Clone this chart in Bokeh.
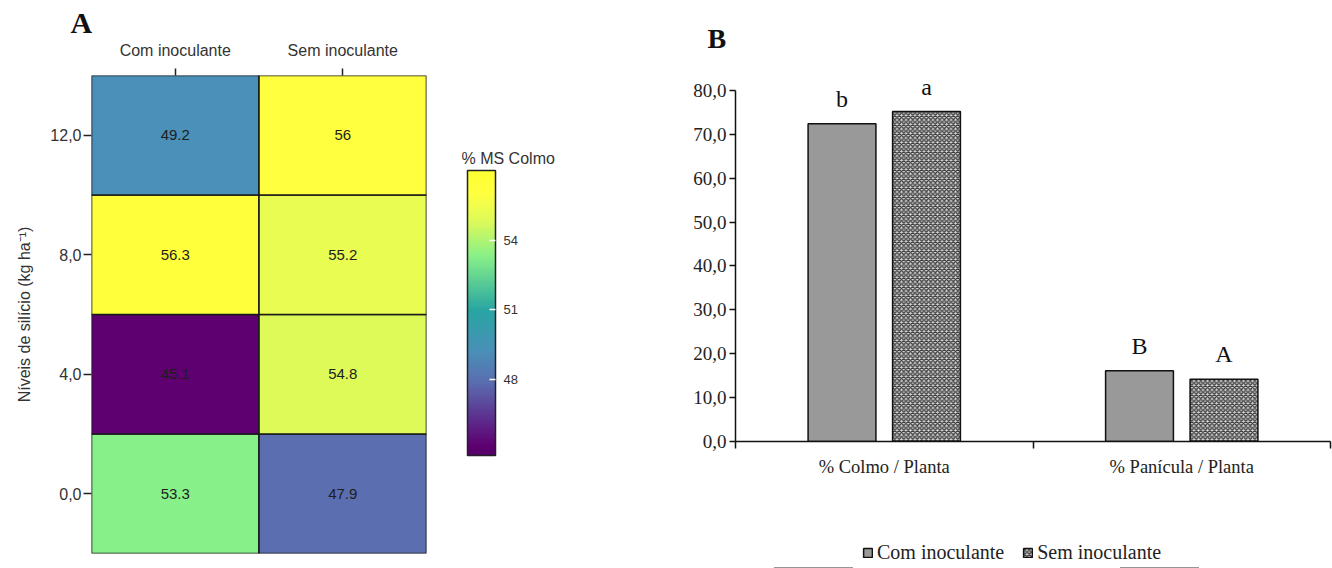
import numpy as np
from bokeh.plotting import figure
from bokeh.models import (ColumnDataSource, LinearColorMapper, ColorBar, FixedTicker,
                          FactorRange, Range1d, LinearAxis, Legend, LegendItem)
from bokeh.transform import dodge, transform
from bokeh.layouts import row, column
from bokeh.core.properties import value
from bokeh.embed import file_html
from bokeh.resources import INLINE

# ---------------- Panel A data ----------------
treatments = ["Com inoculante", "Sem inoculante"]
si_levels = ["0,0", "4,0", "8,0", "12,0"]
ms_com = [53.3, 45.1, 56.3, 49.2]
ms_sem = [47.9, 54.8, 55.2, 56.0]
cbar_ticks = [48, 51, 54]
cbar_low = 44.7
cbar_high = 57.0

# ---------------- Panel B data ----------------
partes = ["% Colmo / Planta", "% Panícula / Planta"]
pct_com = [72.4, 16.1]
pct_sem = [75.2, 14.2]
letras_com = ["b", "B"]
letras_sem = ["a", "A"]
y_ticks_b = [0, 10, 20, 30, 40, 50, 60, 70, 80]

# ---------------- palette (style) ----------------
anchors = [(44.7, "#56006b"), (45.1, "#5e0070"), (46.5, "#5c3793"), (47.9, "#5a6fb0"),
           (49.2, "#4a90b8"), (51.0, "#28a6a2"), (53.3, "#88f088"), (54.8, "#ddfa5a"),
           (56.0, "#ffff40"), (57.0, "#ffff33")]
av = np.array([a[0] for a in anchors])
ac = np.array([[int(c[1:3], 16), int(c[3:5], 16), int(c[5:7], 16)] for _, c in anchors], dtype=float)
vals = np.linspace(cbar_low, cbar_high, 256)
palette = []
for v in vals:
    rgb = [int(round(np.interp(v, av, ac[:, k]))) for k in range(3)]
    palette.append("#%02x%02x%02x" % tuple(rgb))

mapper = LinearColorMapper(palette=palette, low=cbar_low, high=cbar_high)

# ---------------- Panel A (heatmap) ----------------
xs, ys, zs, labs = [], [], [], []
for t, series in zip(treatments, [ms_com, ms_sem]):
    for s, v in zip(si_levels, series):
        xs.append(t); ys.append(s); zs.append(v); labs.append(f"{v:g}")
srcA = ColumnDataSource(dict(trat=xs, si=ys, val=zs, lab=labs))

pA = figure(width=445, height=568, x_range=FactorRange(factors=treatments, range_padding=0),
            y_range=FactorRange(factors=si_levels, range_padding=0),
            x_axis_location="above", output_backend="svg", toolbar_location=None, tools="",
            min_border_left=91, min_border_top=75, min_border_bottom=15, min_border_right=19)
pA.rect(x="trat", y="si", width=1, height=1, source=srcA,
        fill_color=transform("val", mapper), line_color="#1a1a1a", line_width=1.6)
pA.text(x="trat", y="si", text="lab", source=srcA, text_align="center", text_baseline="middle",
        text_font=value("Liberation Sans"), text_font_size="15px", text_color="#1e1e1e")
pA.grid.visible = False
pA.outline_line_color = None

for ax in [pA.xaxis[0], pA.yaxis[0]]:
    ax.axis_line_color = None
    ax.major_tick_in = 0
    ax.major_tick_line_color = "#222222"
    ax.major_tick_line_width = 1.5
    ax.major_label_text_font = "Liberation Sans"
    ax.major_label_text_font_size = "16px"
    ax.major_label_text_color = "#333333"
pA.xaxis[0].major_tick_out = 7
pA.xaxis[0].major_label_standoff = 10
pA.yaxis[0].major_tick_out = 8
pA.yaxis[0].major_label_standoff = 2
pA.yaxis[0].axis_label = "Níveis de silício (kg ha⁻¹)"
pA.yaxis[0].axis_label_text_font = "Liberation Sans"
pA.yaxis[0].axis_label_text_font_size = "16px"
pA.yaxis[0].axis_label_text_font_style = "normal"
pA.yaxis[0].axis_label_text_color = "#333333"
pA.yaxis[0].axis_label_standoff = 14

pA.title.text = "A"
pA.title.text_font = "Liberation Serif"
pA.title.text_font_size = "30px"
pA.title.text_font_style = "bold"
pA.title.text_color = "#111111"
pA.title.align = "left"
pA.title.offset = -21
pA.title.standoff = 0

# ---------------- colour bar holder ----------------
pC = figure(width=195, height=568, x_axis_type=None, y_axis_type=None, output_backend="svg",
            toolbar_location=None, tools="", min_border_left=0, min_border_right=0,
            min_border_top=170, min_border_bottom=0, title="% MS Colmo")
pC.outline_line_color = None
pC.grid.visible = False
pC.title.text_font = "Liberation Sans"
pC.title.text_font_size = "16px"
pC.title.text_font_style = "normal"
pC.title.text_color = "#333333"
pC.title.align = "left"
pC.title.offset = 16
pC.title.standoff = 8
cb = ColorBar(color_mapper=mapper, ticker=FixedTicker(ticks=cbar_ticks), width=28, height=285,
              major_label_text_font="Liberation Sans", major_label_text_font_size="13px",
              major_label_text_color="#333333", major_tick_line_color="white", major_tick_in=6,
              major_tick_out=0, major_tick_line_width=1.5, bar_line_color="#222222", bar_line_width=1.5,
              margin=0, padding=10, location=(12, 103), background_fill_color=None,
              border_line_color=None, label_standoff=8)
pC.add_layout(cb, "center")

# ---------------- Panel B (bars) ----------------
srcB = ColumnDataSource(dict(parte=partes, com=pct_com, sem=pct_sem, lc=letras_com, ls=letras_sem))
y_end_b = 84.1
pB = figure(width=692, height=528, x_range=FactorRange(factors=partes, range_padding=0),
            y_range=Range1d(0, y_end_b), x_axis_type=None, output_backend="svg", toolbar_location=None,
            tools="", min_border_left=95, min_border_right=2, min_border_top=72, min_border_bottom=87)

xax = LinearAxis(ticker=FixedTicker(ticks=[i + 0.5 for i in range(len(partes))],
                                    minor_ticks=list(range(len(partes) + 1))),
                 major_label_overrides={i + 0.5: c for i, c in enumerate(partes)})
pB.add_layout(xax, "below")
xax.major_tick_out = 0
xax.major_tick_in = 0
xax.minor_tick_out = 7
xax.minor_tick_in = 0
xax.minor_tick_line_color = "#111111"
xax.minor_tick_line_width = 1.5
xax.axis_line_color = "#111111"
xax.axis_line_width = 1.5
xax.major_label_standoff = 8
xax.major_label_text_font = "Liberation Serif"
xax.major_label_text_font_size = "18.5px"
xax.major_label_text_color = "#222222"

yax = pB.yaxis[0]
yax.ticker = FixedTicker(ticks=y_ticks_b)
yax.major_label_overrides = {t: f"{t:.1f}".replace(".", ",") for t in y_ticks_b}
yax.bounds = (0, 80)
yax.major_tick_out = 6
yax.major_tick_in = 0
yax.minor_tick_out = 0
yax.minor_tick_in = 0
yax.axis_line_color = "#111111"
yax.axis_line_width = 1.5
yax.major_tick_line_color = "#111111"
yax.major_tick_line_width = 1.5
yax.major_label_standoff = 3
yax.major_label_text_font = "Liberation Serif"
yax.major_label_text_font_size = "19px"
yax.major_label_text_color = "#222222"

pB.grid.visible = False
pB.outline_line_color = None

off = 0.142
bw = 0.228
com_style = dict(fill_color="#999999", line_color="#111111", line_width=1.5)
sem_style = dict(fill_color="#d6d6d6", hatch_pattern="diagonal_cross", hatch_color="#3a3a3a",
                 hatch_scale=4.5, hatch_weight=1.3, line_color="#111111", line_width=1.5)
pB.vbar(x=dodge("parte", -off, range=pB.x_range), top="com", width=bw, source=srcB, **com_style)
pB.vbar(x=dodge("parte", off, range=pB.x_range), top="sem", width=bw, source=srcB, **sem_style)
for xo, col, tcol in [(-off, "com", "lc"), (off, "sem", "ls")]:
    pB.text(x=dodge("parte", xo, range=pB.x_range), y=col, text=tcol, source=srcB,
            text_align="center", text_baseline="bottom", y_offset=-12,
            text_font=value("Liberation Serif"), text_font_size="24px", text_color="#111111")

pB.title.text = "B"
pB.title.text_font = "Liberation Serif"
pB.title.text_font_size = "28px"
pB.title.text_font_style = "bold"
pB.title.text_color = "#111111"
pB.title.align = "left"
pB.title.offset = -28
pB.title.standoff = 37

# ---------------- legend strip ----------------
# the same bars are drawn here far outside the visible y-range, so only their legend swatches show
pL = figure(width=692, height=40, x_range=FactorRange(factors=partes), y_range=Range1d(500, 600),
            x_axis_type=None, y_axis_type=None, output_backend="svg",
            toolbar_location=None, tools="", min_border_left=0, min_border_right=0,
            min_border_top=0, min_border_bottom=0)
pL.outline_line_color = None
pL.grid.visible = False
l1 = pL.vbar(x="parte", top="com", width=bw, source=srcB, **com_style)
l2 = pL.vbar(x="parte", top="sem", width=bw, source=srcB, **sem_style)
leg = Legend(items=[LegendItem(label=treatments[0], renderers=[l1]),
                    LegendItem(label=treatments[1], renderers=[l2])],
             orientation="horizontal", location=(222, 4), padding=0, margin=0, spacing=18,
             glyph_width=11, glyph_height=11, label_standoff=4, border_line_color=None,
             background_fill_color=None, label_text_font="Liberation Serif",
             label_text_font_size="20px", label_text_color="#222222")
pL.add_layout(leg, "center")

for p in (pA, pC, pB, pL):
    if "frame_align" in p.properties():
        p.frame_align = False

layout = row(pA, pC, column(pB, pL))
open("out.html", "w").write(file_html(layout, INLINE))
